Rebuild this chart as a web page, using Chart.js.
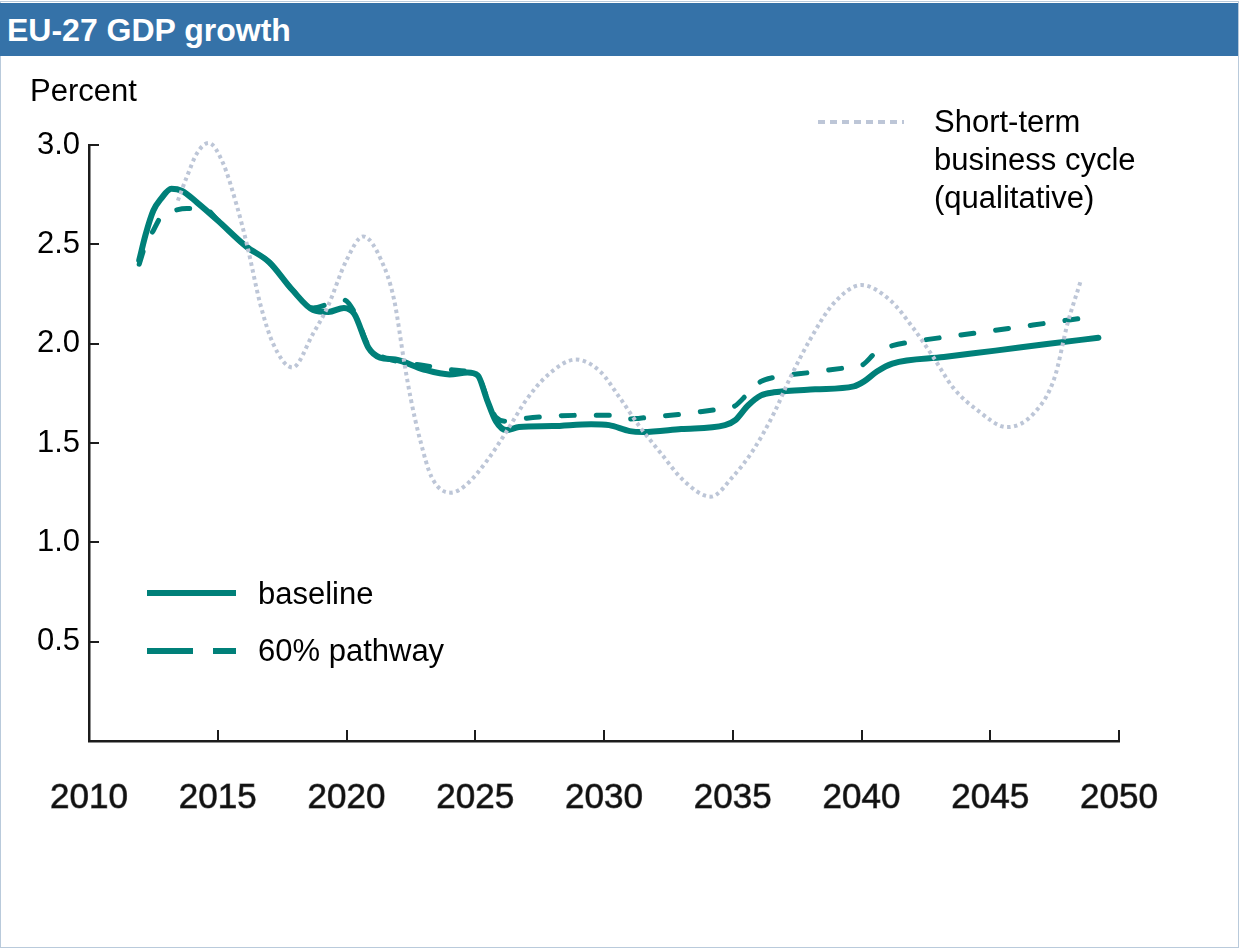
<!DOCTYPE html>
<html>
<head>
<meta charset="utf-8">
<script src="https://cdn.jsdelivr.net/npm/chart.js"></script>
<style>
  body { margin: 0; background: #fff; }
  #wrap { position: relative; width: 1240px; height: 948px; overflow: hidden; }
  #frame { position: absolute; left: 0; top: 1px; width: 1237px; height: 945px; border: 1px solid #b9cadb; }
  #head {
    position: absolute; left: 0; top: 3px; width: 1238px; height: 53px;
    background: #3572a8; color: #fff;
    font: bold 32px "Liberation Sans", Arial, sans-serif;
    line-height: 55px; padding-left: 7px; box-sizing: border-box;
  }
  #unit {
    position: absolute; left: 30px; top: 73px;
    font: 31px "Liberation Sans", Arial, sans-serif; color: #000;
  }
  canvas { position: absolute; left: 0; top: 0; }
</style>
</head>
<body>
<div id="wrap">
  <div id="frame"></div>
  <canvas id="chart" width="1240" height="948"></canvas>
  <div id="head">EU-27 GDP growth</div>
  <div id="unit">Percent</div>
</div>
<script>
// values
const xTickYears = [2010, 2015, 2020, 2025, 2030, 2035, 2040, 2045, 2050];
const yTickValues = [0, 0.5, 1.0, 1.5, 2.0, 2.5, 3.0];

const baselineYears = [2011.95, 2012.2, 2012.5, 2012.8, 2013.2, 2013.6, 2014.2, 2015.0, 2016.1, 2017.0,
  2017.9, 2018.7, 2019.3, 2019.9, 2020.3, 2020.85, 2021.3, 2021.9, 2023.0, 2024.0,
  2024.7, 2025.1, 2025.45, 2025.8, 2026.2, 2026.7, 2028.0, 2029.5, 2030.2, 2031.0,
  2031.5, 2033.0, 2034.7, 2035.1, 2035.6, 2036.1, 2036.6, 2038.2, 2039.7, 2040.1,
  2040.6, 2041.2, 2043.2, 2045.2, 2047.2, 2049.2];
const baselineValues = [2.42, 2.55, 2.67, 2.73, 2.78, 2.77, 2.71, 2.62, 2.49, 2.41,
  2.27, 2.17, 2.16, 2.18, 2.15, 1.98, 1.93, 1.92, 1.87, 1.845,
  1.855, 1.84, 1.72, 1.61, 1.565, 1.58, 1.585, 1.595, 1.59, 1.56,
  1.555, 1.57, 1.59, 1.615, 1.69, 1.74, 1.755, 1.77, 1.785, 1.81,
  1.86, 1.90, 1.933, 1.965, 1.998, 2.03];

const pathwayYears = [2011.95, 2012.2, 2012.5, 2012.8, 2013.2, 2013.8, 2014.5, 2015.0, 2016.1, 2017.0,
  2017.9, 2018.7, 2019.3, 2019.9, 2020.3, 2020.85, 2021.3, 2022.0, 2023.0, 2024.0,
  2024.7, 2025.1, 2025.45, 2025.8, 2026.2, 2027.0, 2028.0, 2029.5, 2030.3, 2030.9,
  2031.4, 2033.0, 2034.5, 2035.0, 2035.6, 2036.1, 2036.6, 2038.0, 2039.5, 2040.0,
  2040.6, 2041.2, 2042.0, 2044.0, 2046.0, 2048.0, 2049.2];
const pathwayValues = [2.40, 2.50, 2.57, 2.64, 2.665, 2.68, 2.68, 2.62, 2.49, 2.41,
  2.27, 2.18, 2.20, 2.22, 2.16, 1.99, 1.94, 1.91, 1.89, 1.87,
  1.86, 1.84, 1.73, 1.63, 1.61, 1.625, 1.635, 1.64, 1.64, 1.62,
  1.625, 1.645, 1.67, 1.68, 1.75, 1.81, 1.83, 1.855, 1.88, 1.89,
  1.96, 1.99, 2.01, 2.046, 2.082, 2.118, 2.14];

const cycleYears = [2013.45, 2013.8, 2014.2, 2014.65, 2015.2, 2015.75, 2016.15, 2016.65, 2017.15, 2017.9,
  2018.7, 2019.25, 2020.0, 2020.65, 2021.35, 2021.85, 2022.25, 2022.5, 2022.85, 2023.3,
  2024.05, 2024.65, 2025.45, 2026.2, 2027.0, 2027.8, 2028.9, 2029.85, 2030.6, 2031.4,
  2032.2, 2033.1, 2034.15, 2035.0, 2035.8, 2036.6, 2037.2, 2038.0, 2038.9, 2040.0,
  2041.1, 2042.0, 2042.8, 2043.55, 2044.5, 2045.65, 2046.7, 2047.5, 2048.0, 2048.5];
const cycleValues = [2.72, 2.84, 2.96, 3.01, 2.91, 2.69, 2.49, 2.20, 2.00, 1.88,
  2.05, 2.18, 2.42, 2.54, 2.42, 2.22, 1.90, 1.72, 1.52, 1.33,
  1.25, 1.29, 1.41, 1.555, 1.72, 1.84, 1.92, 1.86, 1.73, 1.58,
  1.45, 1.31, 1.23, 1.33, 1.465, 1.65, 1.82, 2.02, 2.20, 2.295,
  2.22, 2.08, 1.93, 1.78, 1.665, 1.58, 1.65, 1.83, 2.10, 2.31];

const cycleLegendLines = ['Short-term', 'business cycle', '(qualitative)'];

const TEAL = '#008079';
const CYCLE = '#bdc6d7';
const AXIS = '#1c1c1c';
const FONT = '"Liberation Sans", Arial, sans-serif';

function pairs(xs, ys) {
  return xs.map((x, i) => ({ x: x, y: ys[i] }));
}

// short tick marks pointing into the plot, like the original
const insideTicks = {
  id: 'insideTicks',
  afterDatasetsDraw(chart) {
    const { ctx, chartArea } = chart;
    const xs = chart.scales.x, ys = chart.scales.y;
    ctx.save();
    ctx.strokeStyle = AXIS;
    ctx.lineWidth = 2;
    ctx.beginPath();
    xs.ticks.forEach(t => {
      if (t.value === xs.min) return;
      const px = Math.round(xs.getPixelForValue(t.value));
      ctx.moveTo(px, chartArea.bottom);
      ctx.lineTo(px, chartArea.bottom - 11);
    });
    ys.ticks.forEach(t => {
      if (t.value === 0) return;
      const py = Math.round(ys.getPixelForValue(t.value));
      ctx.moveTo(chartArea.left, py);
      ctx.lineTo(chartArea.left + 10, py);
    });
    ctx.stroke();
    ctx.restore();
  }
};

// two free-floating legends
const floatLegends = {
  id: 'floatLegends',
  afterDraw(chart) {
    const ctx = chart.ctx;
    const ds = chart.data.datasets;
    ctx.save();
    ctx.font = '31px ' + FONT;
    ctx.fillStyle = '#000';
    ctx.textBaseline = 'middle';

    // business cycle, top right
    ctx.strokeStyle = ds[0].borderColor;
    ctx.lineWidth = 4;
    ctx.setLineDash([7, 5]);
    ctx.beginPath();
    ctx.moveTo(818, 122);
    ctx.lineTo(904, 122);
    ctx.stroke();
    cycleLegendLines.forEach((s, i) => ctx.fillText(s, 934, 123 + i * 38));

    // baseline
    ctx.strokeStyle = ds[1].borderColor;
    ctx.lineWidth = 6;
    ctx.setLineDash([]);
    ctx.beginPath();
    ctx.moveTo(147, 593);
    ctx.lineTo(236, 593);
    ctx.stroke();
    ctx.fillText(ds[1].label, 258, 595);

    // 60% pathway
    ctx.strokeStyle = ds[2].borderColor;
    ctx.setLineDash([46, 20]);
    ctx.beginPath();
    ctx.moveTo(147, 651);
    ctx.lineTo(236, 651);
    ctx.stroke();
    ctx.fillText(ds[2].label, 258, 652);
    ctx.restore();
  }
};

new Chart(document.getElementById('chart'), {
  type: 'line',
  data: {
    datasets: [
      {
        label: 'Short-term business cycle (qualitative)',
        data: pairs(cycleYears, cycleValues),
        borderColor: CYCLE,
        borderWidth: 4,
        borderDash: [3.5, 3.5],
        cubicInterpolationMode: 'monotone',
        pointRadius: 0,
        clip: false
      },
      {
        label: 'baseline',
        data: pairs(baselineYears, baselineValues),
        borderColor: TEAL,
        borderWidth: 6,
        borderCapStyle: 'round',
        borderJoinStyle: 'round',
        cubicInterpolationMode: 'monotone',
        pointRadius: 0,
        clip: false
      },
      {
        label: '60% pathway',
        data: pairs(pathwayYears, pathwayValues),
        borderColor: TEAL,
        borderWidth: 5,
        borderDash: [13, 22],
        borderCapStyle: 'round',
        cubicInterpolationMode: 'monotone',
        pointRadius: 0,
        clip: false
      }
    ]
  },
  options: {
    responsive: false,
    animation: false,
    devicePixelRatio: 1,
    layout: { padding: { left: 0, right: 121, top: 145, bottom: 127 } },
    plugins: {
      legend: { display: false },
      tooltip: { enabled: false }
    },
    scales: {
      x: {
        type: 'linear',
        min: 2010,
        max: 2050,
        afterFit: s => { s.height = 80; },
        afterBuildTicks: s => { s.ticks = xTickYears.map(v => ({ value: v })); },
        grid: { display: false, drawTicks: false },
        border: { display: true, color: AXIS, width: 2.5 },
        ticks: {
          padding: 36,
          color: '#111',
          textStrokeColor: '#777',
          textStrokeWidth: 1,
          font: { family: FONT, size: 35 },
          callback: v => String(v)
        }
      },
      y: {
        min: 0,
        max: 3,
        afterFit: s => { s.width = 89; },
        afterBuildTicks: s => { s.ticks = yTickValues.map(v => ({ value: v })); },
        grid: { display: false, drawTicks: false },
        border: { display: true, color: AXIS, width: 2.5 },
        ticks: {
          padding: 9,
          color: '#000',
          font: { family: FONT, size: 31 },
          callback: v => (v === 0 ? '' : v.toFixed(1))
        }
      }
    }
  },
  plugins: [insideTicks, floatLegends]
});
</script>
</body>
</html>
